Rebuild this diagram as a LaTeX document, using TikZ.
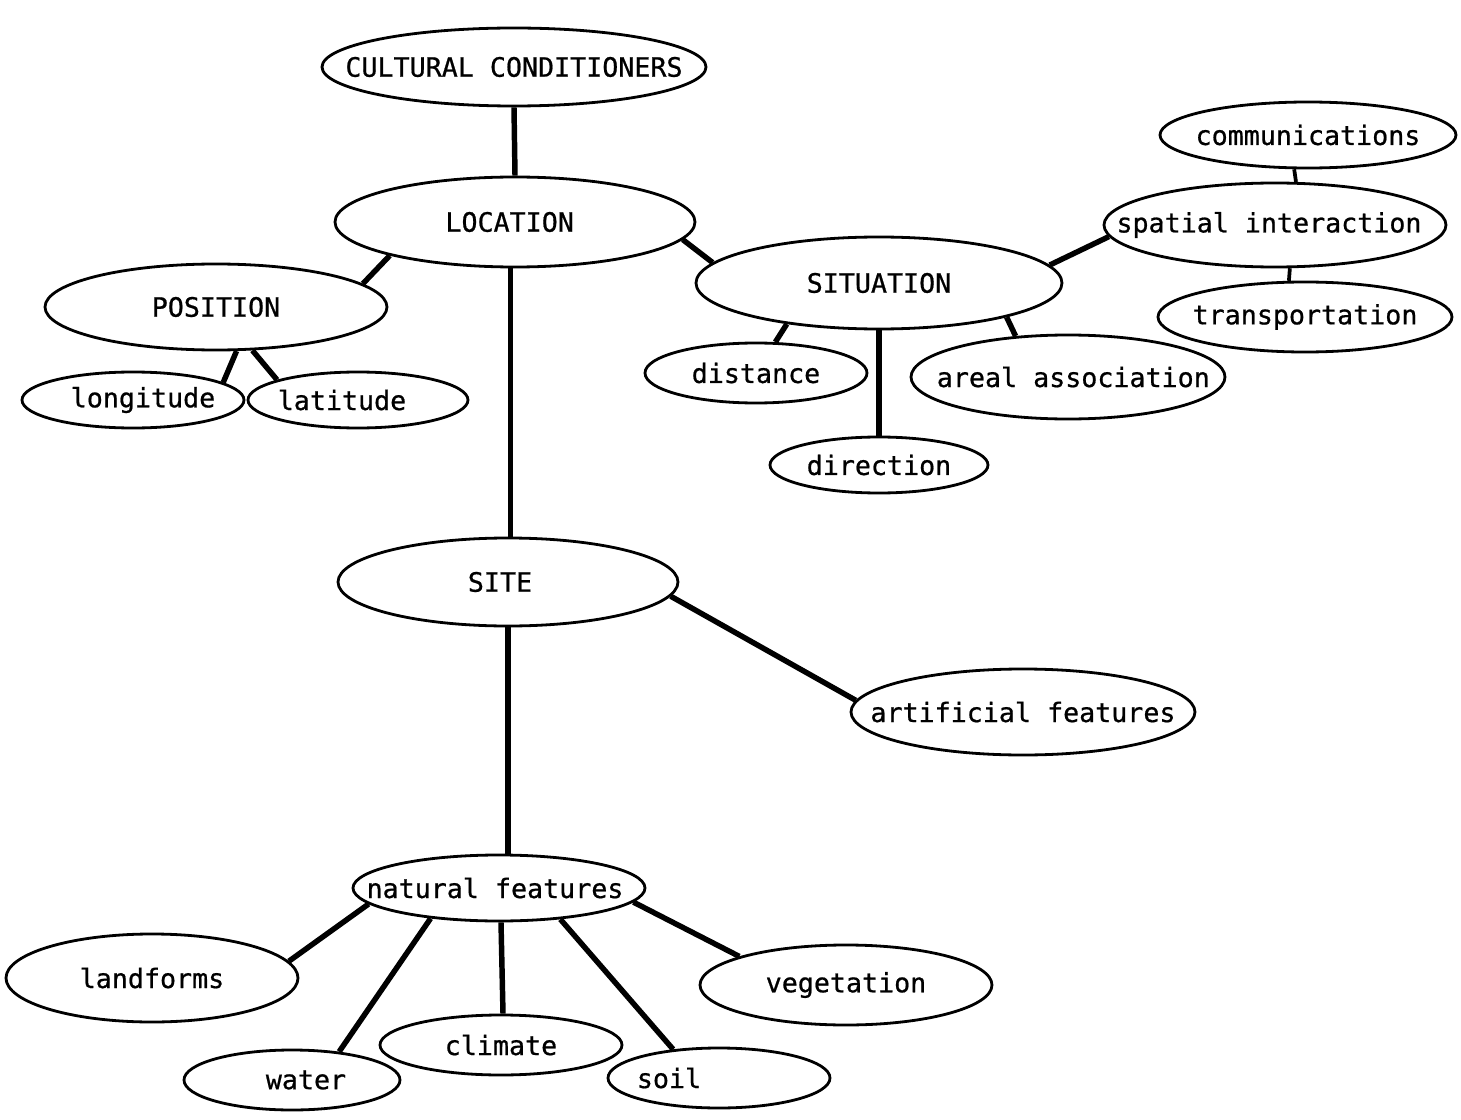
\documentclass[tikz,border=0pt]{standalone}
\usepackage{fontspec}
\newfontfamily\diagfont{DejaVu Sans Mono}[FakeBold=0.7]
\usetikzlibrary{shapes.geometric}
\newcommand{\ctxt}[1]{\makebox[0pt][c]{#1}}
\tikzset{
  el/.style 2 args={ellipse, draw=black, line width=2.1pt,
    minimum width=#1*1.5pt, minimum height=#2*1.5pt, inner sep=0pt,
    font=\fontsize{20}{24}\selectfont\diagfont},
  link/.style={line width=4.1pt},
  thinlink/.style={line width=2.8pt}
}
\begin{document}
\begin{tikzpicture}[x=0.75pt,y=-0.75pt]
\fill[white] (0,0) rectangle (1461,1120);
\useasboundingbox (0,0) rectangle (1461,1120);
% nodes
\node[el={192}{39}] (cult) at (514,67) {\ctxt{CULTURAL CONDITIONERS}};
\node[el={180}{45}] (loc) at (515,222) {\ctxt{LOCATION\hspace{8pt}}};
\node[el={171}{43}] (pos) at (216,307) {\ctxt{POSITION}};
\node[el={111}{28}] (long) at (133,400) {\ctxt{\hspace{15pt}longitude}};
\node[el={110}{28}] (lat) at (358,400) {\ctxt{latitude\hspace{24pt}}};
\node[el={183}{46}] (sit) at (879,283) {\ctxt{SITUATION}};
\node[el={148}{33}] (comm) at (1308,135) {\ctxt{communications}};
\node[el={171}{42}] (spat) at (1275,225) {\ctxt{spatial interaction\hspace{9pt}}};
\node[el={147}{35}] (trans) at (1305,317) {\ctxt{transportation}};
\node[el={111}{30}] (dist) at (756,373) {\ctxt{distance}};
\node[el={157}{42}] (areal) at (1068,377) {\ctxt{\hspace{8pt}areal association}};
\node[el={109}{28}] (dir) at (879,465) {\ctxt{direction}};
\node[el={170}{44}] (site) at (508,582) {\ctxt{SITE\hspace{12pt}}};
\node[el={172}{43}] (art) at (1023,712) {\ctxt{artificial features}};
\node[el={146}{33}] (nat) at (499,888) {\ctxt{natural features\hspace{6pt}}};
\node[el={146}{44}] (land) at (152,978) {\ctxt{landforms}};
\node[el={146}{40}] (veg) at (846,985) {\ctxt{vegetation}};
\node[el={121}{30}] (clim) at (501,1045) {\ctxt{climate}};
\node[el={108}{30}] (water) at (292,1080) {\ctxt{\hspace{21pt}water}};
\node[el={111}{30}] (soil) at (719,1078) {\ctxt{soil\hspace{75pt}}};
% connectors
\draw[link] (cult.south) -- (loc.north);
\draw[link] (loc.-6) -- (sit.173);
\draw[link] (loc.195) -- (pos.9);
\draw[link] ([xshift=2pt]site.north) -- ([xshift=2pt]site.north |- loc.south);
\draw[link] (pos.-65) -- (long.11);
\draw[link] (pos.-50) -- (lat.166);
\draw[link] (sit.6) -- (spat.184);
\draw[thinlink] (comm.-112) -- (spat.64);
\draw[thinlink] (spat.-71) -- (trans.114);
\draw[link] (sit.204) -- (dist.58);
\draw[link] (sit.south) -- (dir.north);
\draw[link] (sit.-15) -- (areal.142);
\draw[link] (site.-5) -- (art.176);
\draw[link] (site.south) -- (site.south |- nat.north);
\draw[link] (nat.187) -- (land.7);
\draw[link] (nat.-6) -- (veg.165);
\draw[link] (nat.204) -- (water.31);
\draw[link] ([xshift=1.5pt]nat.south) -- ([xshift=1.5pt]clim.north);
\draw[link] (nat.-27) -- (soil.148);
\end{tikzpicture}
\end{document}
